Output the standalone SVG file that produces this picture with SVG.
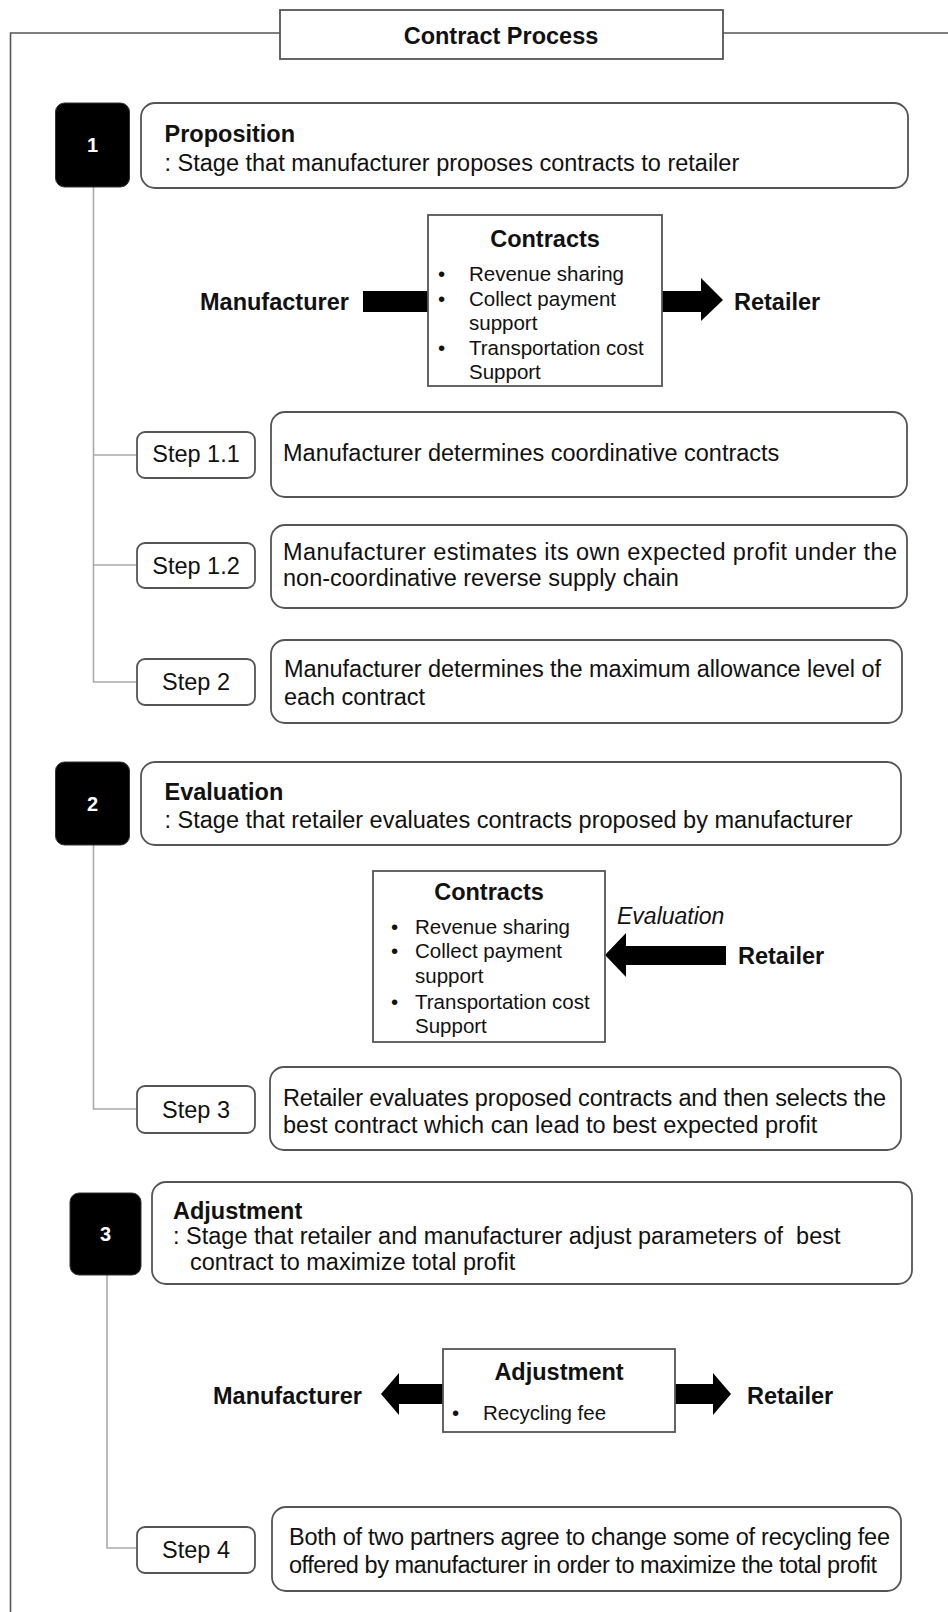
<svg xmlns="http://www.w3.org/2000/svg" width="948" height="1612" viewBox="0 0 948 1612">
<style>
text{font-family:"Liberation Sans",Arial,sans-serif;fill:#111;}
.t{font-size:23.5px;}
.b{font-size:23.5px;font-weight:bold;}
.s{font-size:20.5px;}
.i{font-size:23px;font-style:italic;}
.num{font-size:20px;font-weight:bold;fill:#fff;text-anchor:middle;}
.c{text-anchor:middle;}
.box{fill:#fff;stroke:#555;stroke-width:1.8;}
.blk{fill:#000;stroke:#333;stroke-width:1;}
.ln{fill:none;stroke:#aaa;stroke-width:1.6;}
.frame{fill:none;stroke:#555;stroke-width:1.6;}
.arr{fill:#000;}
</style>
<rect width="948" height="1612" fill="#fff"/>
<path class="frame" d="M10.5,1612 V33 H280 M723,33 H948"/>
<g id="title">
<rect class="box" x="280" y="10" width="443" height="49"/>
<text class="b c" x="501" y="44">Contract Process</text>
</g>
<g id="connectors">
<path class="ln" d="M93.5,187 V682 H137 M93.5,455 H137 M93.5,565 H137"/>
<path class="ln" d="M93.5,845 V1109 H137"/>
<path class="ln" d="M107,1275 V1548 H137"/>
<rect class="arr" x="363" y="291" width="65" height="21"/>
<polygon class="arr" points="662,291 701,291 701,278 723,300 701,321 701,312 662,312"/>
<polygon class="arr" points="726,946 626,946 626,933 605,955 626,977 626,965 726,965"/>
<polygon class="arr" points="443,1384 399,1384 399,1373 381,1394 399,1415 399,1404 443,1404"/>
<polygon class="arr" points="675,1384 713,1384 713,1373 731,1394 713,1415 713,1404 675,1404"/>
</g>
<g id="stage1">
<rect class="blk" x="55.5" y="103" width="74" height="84" rx="9"/>
<text class="num" x="92.5" y="152">1</text>
<rect class="box" x="141" y="103" width="767" height="85" rx="14"/>
<text class="b" x="164.5" y="142">Proposition</text>
<text class="t" x="164.5" y="171">: Stage that manufacturer proposes contracts to retailer</text>
</g>
<g id="contracts1">
<rect class="box" x="428" y="215" width="234" height="171"/>
<text class="b c" x="545" y="247">Contracts</text>
<text class="s" x="438" y="281">•</text><text class="s" x="469" y="281">Revenue sharing</text>
<text class="s" x="438" y="305.5">•</text><text class="s" x="469" y="305.5">Collect payment</text>
<text class="s" x="469" y="330">support</text>
<text class="s" x="438" y="355">•</text><text class="s" x="469" y="355">Transportation cost</text>
<text class="s" x="469" y="379">Support</text>
</g>
<g id="manufacturer1"><text class="b" x="200" y="309.5">Manufacturer</text></g>
<g id="retailer1"><text class="b" x="734" y="309.5">Retailer</text></g>
<g id="step11">
<rect class="box" x="137" y="432" width="118" height="46" rx="8"/>
<text class="t c" x="196" y="462">Step 1.1</text>
<rect class="box" x="271" y="412" width="636" height="85" rx="14"/>
<text class="t" x="283" y="461">Manufacturer determines coordinative contracts</text>
</g>
<g id="step12">
<rect class="box" x="137" y="543" width="118" height="45" rx="8"/>
<text class="t c" x="196" y="574">Step 1.2</text>
<rect class="box" x="271" y="525" width="636" height="83" rx="14"/>
<text class="t" x="283" y="559.5" textLength="614" lengthAdjust="spacing">Manufacturer estimates its own expected profit under the</text>
<text class="t" x="283" y="586">non-coordinative reverse supply chain</text>
</g>
<g id="step2">
<rect class="box" x="137" y="659" width="118" height="46" rx="8"/>
<text class="t c" x="196" y="690">Step 2</text>
<rect class="box" x="271" y="640" width="631" height="83" rx="14"/>
<text class="t" x="284" y="677" textLength="597" lengthAdjust="spacing">Manufacturer determines the maximum allowance level of</text>
<text class="t" x="284" y="704.5">each contract</text>
</g>
<g id="stage2">
<rect class="blk" x="55.5" y="762" width="74" height="83" rx="9"/>
<text class="num" x="92.5" y="811">2</text>
<rect class="box" x="141" y="762" width="760" height="83" rx="14"/>
<text class="b" x="164.5" y="800">Evaluation</text>
<text class="t" x="164.5" y="828">: Stage that retailer evaluates contracts proposed by manufacturer</text>
</g>
<g id="contracts2">
<rect class="box" x="373" y="871" width="232" height="171"/>
<text class="b c" x="489" y="900">Contracts</text>
<text class="s" x="391" y="933.5">•</text><text class="s" x="415" y="933.5">Revenue sharing</text>
<text class="s" x="391" y="958">•</text><text class="s" x="415" y="958">Collect payment</text>
<text class="s" x="415" y="983">support</text>
<text class="s" x="391" y="1009">•</text><text class="s" x="415" y="1009">Transportation cost</text>
<text class="s" x="415" y="1032.5">Support</text>
</g>
<g id="evaluation-label"><text class="i" x="617" y="924">Evaluation</text></g>
<g id="retailer2"><text class="b" x="738" y="963.5">Retailer</text></g>
<g id="step3">
<rect class="box" x="137" y="1086" width="118" height="47" rx="8"/>
<text class="t c" x="196" y="1118">Step 3</text>
<rect class="box" x="270" y="1067" width="631" height="83" rx="14"/>
<text class="t" x="283" y="1105.5" textLength="603" lengthAdjust="spacing">Retailer evaluates proposed contracts and then selects the</text>
<text class="t" x="283" y="1132.5">best contract which can lead to best expected profit</text>
</g>
<g id="stage3">
<rect class="blk" x="70" y="1193" width="71" height="82" rx="9"/>
<text class="num" x="105.5" y="1241">3</text>
<rect class="box" x="152" y="1182" width="760" height="102" rx="14"/>
<text class="b" x="173" y="1218.5">Adjustment</text>
<text class="t" x="173" y="1243.5" xml:space="preserve">: Stage that retailer and manufacturer adjust parameters of  best</text>
<text class="t" x="190" y="1270">contract to maximize total profit</text>
</g>
<g id="adjustment">
<rect class="box" x="443" y="1349" width="232" height="83"/>
<text class="b c" x="559" y="1380">Adjustment</text>
<text class="s" x="452" y="1420">•</text><text class="s" x="483" y="1420">Recycling fee</text>
</g>
<g id="manufacturer3"><text class="b" x="213" y="1403.5">Manufacturer</text></g>
<g id="retailer3"><text class="b" x="747" y="1403.5">Retailer</text></g>
<g id="step4">
<rect class="box" x="137" y="1527" width="118" height="46" rx="8"/>
<text class="t c" x="196" y="1558">Step 4</text>
<rect class="box" x="272" y="1507" width="629" height="84" rx="14"/>
<text class="t" x="289" y="1544.5" textLength="601" lengthAdjust="spacing">Both of two partners agree to change some of recycling fee</text>
<text class="t" x="289" y="1572.5" textLength="588" lengthAdjust="spacing">offered by manufacturer in order to maximize the total profit</text>
</g>
</svg>
